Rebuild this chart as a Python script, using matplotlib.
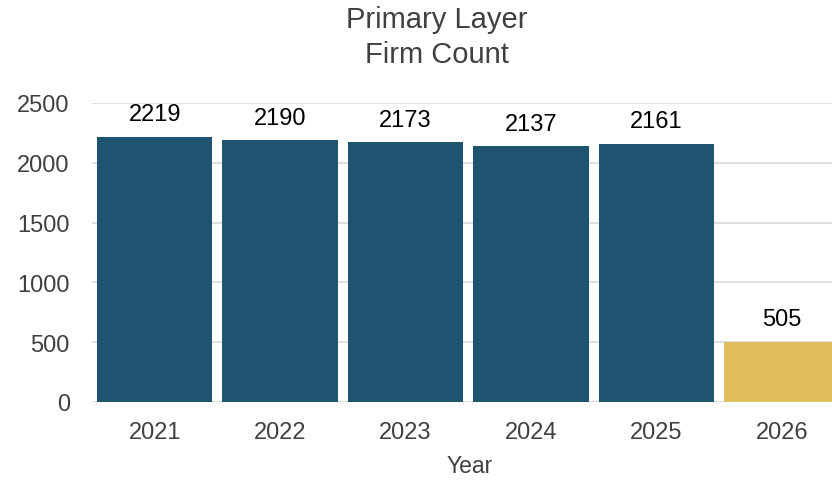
import matplotlib
matplotlib.use("Agg")
import matplotlib.pyplot as plt

years = ["2021", "2022", "2023", "2024", "2025", "2026"]
firm_counts = [2219, 2190, 2173, 2137, 2161, 505]
bar_colors = ["#1f5470", "#1f5470", "#1f5470", "#1f5470", "#1f5470", "#e0be5e"]
y_ticks = [0, 500, 1000, 1500, 2000, 2500]

plt.rcParams["font.family"] = ["Liberation Sans", "DejaVu Sans"]

fig = plt.figure(figsize=(8.32, 4.81), dpi=100)
ax = fig.add_axes([92 / 832, 1 - 403 / 481, 1 - 92 / 832, (403 - 104) / 481])

x = list(range(len(years)))
bars = ax.bar(x, firm_counts, width=0.92, color=bar_colors, zorder=2)
for xi, v in zip(x, firm_counts):
    ax.annotate(str(v), (xi, v), xytext=(0, 8), textcoords="offset points",
                ha="center", va="bottom", fontsize=17, color="black")

ax.set_xlim(-0.5, 5.4)
ax.set_ylim(0, 2500)
ax.set_yticks(y_ticks)
ax.set_xticks(x)
ax.set_xticklabels(years)
ax.yaxis.grid(True, color="#d9d9d9", linewidth=1.2, zorder=0)
ax.set_axisbelow(True)
for s in ax.spines.values():
    s.set_visible(False)
ax.tick_params(axis="both", length=0, labelsize=17, labelcolor="#404040")
ax.tick_params(axis="x", pad=13.5)
ax.tick_params(axis="y", pad=16)

ax.set_xlabel("Year", fontsize=16.5, color="#404040")
ax.xaxis.set_label_coords(470 / 832, 1 - 467 / 481, transform=fig.transFigure)
ax.xaxis.label.set_va("center")

fig.text(437 / 832, 1 - 20 / 481, "Primary Layer", ha="center", va="center",
         fontsize=21, color="#404040")
fig.text(437 / 832, 1 - 55 / 481, "Firm Count", ha="center", va="center",
         fontsize=21, color="#404040")

fig.savefig("out.png", dpi=100)
